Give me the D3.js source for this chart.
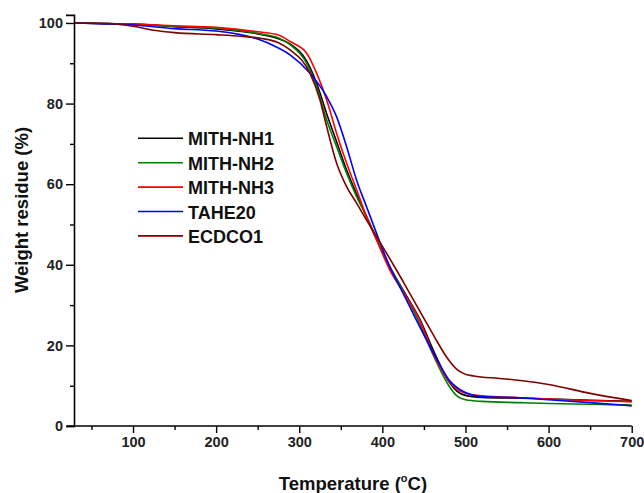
<!DOCTYPE html>
<html><head><meta charset="utf-8">
<script src="https://cdn.jsdelivr.net/npm/d3@7"></script>
<style>body{margin:0;background:#fff}text{font-family:"Liberation Sans",Arial,sans-serif;font-weight:bold}</style>
</head><body><svg id="c" width="644" height="493"></svg>
<script>
const seriesNames = ["MITH-NH1","MITH-NH2","MITH-NH3","TAHE20","ECDCO1"];
const seriesColors = ["#000000","#008000","#ff0000","#0000ff","#800000"];
const nh1 = [[30,100],[100,99.7],[150,99.1],[200,98.5],[250,97.3],[275,96.1],[289,94.8],[309,90.5],[321,85],[333,77.5],[345,70.5],[357,63.5],[369,57.5],[385,50],[397,44.5],[409,39.5],[427,33],[445,26.5],[463,18],[480,11],[490,8.6],[500,7.6],[520,7.1],[566,6.9],[600,6.7],[650,6.4],[700,6.1]];
const nh2 = [[30,100],[100,99.7],[150,99.2],[200,98.7],[253,97.3],[275,96.3],[289,94.6],[309,90.0],[321,84.2],[333,75.9],[345,69.3],[357,62.7],[369,56.9],[385,50.3],[397,44.5],[409,39.5],[425,33.5],[441,27.1],[463,16.8],[480,10],[490,7.4],[500,6.5],[520,6.1],[566,5.8],[600,5.6],[650,5.4],[700,5.2]];
const nh3 = [[30,100],[100,99.7],[150,99.3],[200,98.9],[250,97.8],[275,97.0],[289,95.4],[309,92.5],[321,87.5],[333,80.9],[345,72.6],[357,65.2],[369,58.6],[381,51.9],[393,46.2],[409,38.7],[426,33],[443,27.1],[463,17.2],[480,11.2],[490,9.1],[500,8.1],[520,7.5],[566,7.0],[600,6.7],[650,6.3],[700,6.0]];
const tahe = [[30,100],[60,99.8],[100,99.5],[150,98.6],[200,98.0],[250,96.0],[270,94.3],[289,92.1],[313,87.5],[333,81.7],[345,76.7],[357,69.3],[369,61],[381,54.4],[393,47.8],[409,39.5],[425,32.9],[439,27.1],[463,17.5],[480,11.5],[490,9.5],[500,8.3],[520,7.3],[566,7.0],[600,6.5],[650,5.8],[700,5.0]];
const ecd = [[30,100],[75,99.8],[100,99.2],[125,98.2],[150,97.6],[200,97.1],[230,96.7],[253,96.2],[275,95.1],[289,93.3],[313,87.5],[325,80.9],[333,74.3],[345,65.2],[357,59.4],[369,55.3],[381,51.1],[393,47],[405,42.9],[417,38.7],[433,32.9],[449,27.1],[463,22],[477,17.2],[490,14],[498,13],[510,12.4],[541,11.8],[566,11.3],[600,10.3],[650,8.1],[700,6.3]];
const seriesData = [nh1,nh2,nh3,tahe,ecd];
const xMajor = [100,200,300,400,500,600,700];
const xMinor = [50,150,250,350,450,550,650];
const yMajor = [0,20,40,60,80,100];
const yMinor = [10,30,50,70,90];

const svg = d3.select("#c");
const x = d3.scaleLinear().domain([29,700]).range([74,631.7]);
const y = d3.scaleLinear().domain([0,102]).range([426,14.9]);

// axes
const gx = svg.append("g").attr("transform","translate(0,426)");
gx.call(d3.axisBottom(x).tickValues(xMajor).tickSize(7).tickPadding(4).tickFormat(d3.format("d")));
gx.append("g").call(d3.axisBottom(x).tickValues(xMinor).tickSize(4).tickFormat(""));
const gy = svg.append("g").attr("transform","translate(74,0)");
gy.call(d3.axisLeft(y).tickValues(yMajor).tickSize(8).tickPadding(3).tickFormat(d3.format("d")));
gy.append("g").call(d3.axisLeft(y).tickValues(yMinor).tickSize(4).tickFormat(""));
svg.selectAll(".domain").attr("stroke","#000").attr("stroke-width",1.6);
svg.selectAll(".tick line").attr("stroke","#000").attr("stroke-width",1.4);
svg.selectAll(".tick text").attr("font-size",14.5).attr("font-weight","bold").attr("fill","#222").attr("font-family","Liberation Sans, Arial, sans-serif");
gx.selectAll("g > g .domain").remove();
gy.selectAll("g > g .domain").remove();
gx.selectAll(".domain").attr("d","M67,0H631.7");

// lines
const line = d3.line().x(d=>x(d[0])).y(d=>y(d[1])).curve(d3.curveMonotoneX);
seriesData.forEach((s,i)=>{
  svg.append("path").datum(s).attr("d",line).attr("fill","none")
    .attr("stroke",seriesColors[i]).attr("stroke-width",1.6);
});

// legend
seriesNames.forEach((n,i)=>{
  const ly = 138.3 + i*24.4;
  svg.append("line").attr("x1",138).attr("x2",183).attr("y1",ly).attr("y2",ly)
    .attr("stroke",seriesColors[i]).attr("stroke-width",1.6);
  svg.append("text").attr("x",188).attr("y",ly+7).attr("font-size",18).attr("fill","#111").text(n);
});

// titles
const xt = svg.append("text").attr("x",353).attr("y",490).attr("text-anchor","middle").attr("font-size",18.5).attr("fill","#111");
xt.append("tspan").text("Temperature (");
xt.append("tspan").attr("font-size",11).attr("dy",-8).text("o");
xt.append("tspan").attr("dy",8).text("C)");
svg.append("text").attr("transform","translate(28,210) rotate(-90)").attr("text-anchor","middle").attr("font-size",18.5).attr("fill","#111").text("Weight residue (%)");
</script></body></html>
